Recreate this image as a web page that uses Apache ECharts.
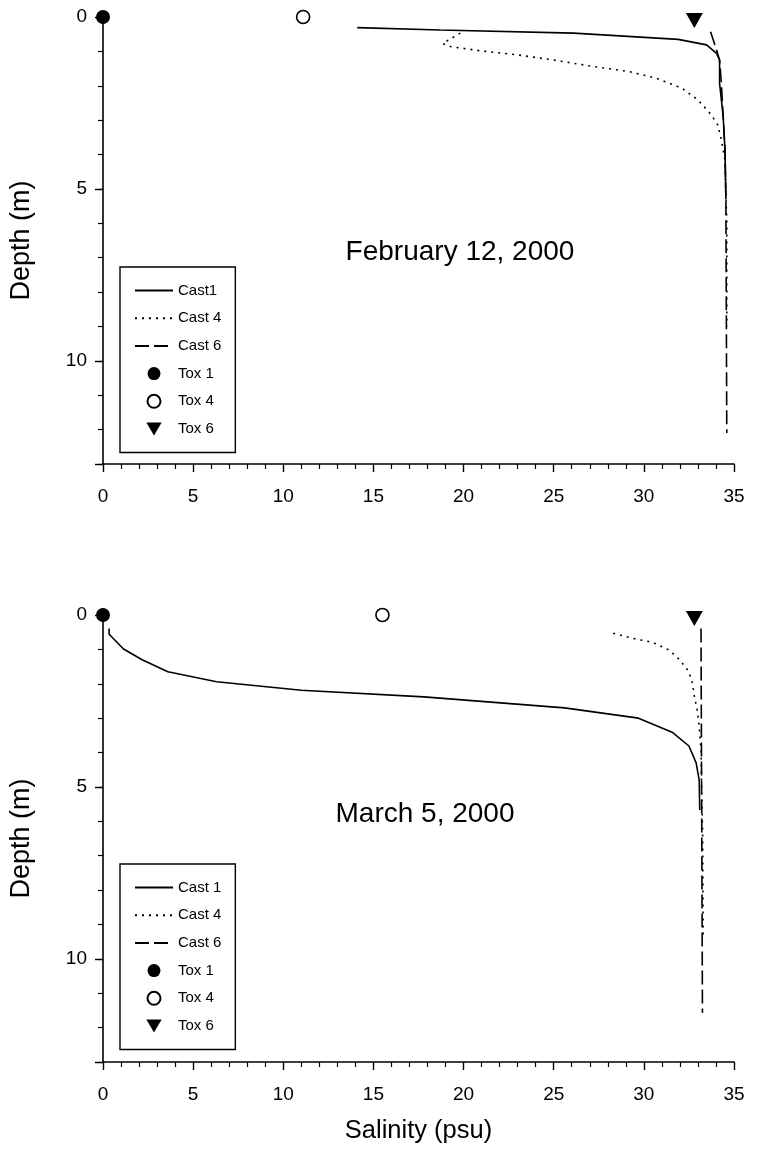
<!DOCTYPE html>
<html>
<head>
<meta charset="utf-8">
<script src="https://cdn.jsdelivr.net/npm/echarts@6/dist/echarts.min.js"></script>
<style>
  html, body { margin: 0; padding: 0; background: #fff; }
  #chart { width: 761px; height: 1159px; }
</style>
</head>
<body>
<div id="chart"></div>
<script>
// Salinity (psu) vs depth (m) profiles for two sampling dates.

// February 12, 2000
const febCast1Sal   = [14.1, 18.7, 26.1, 31.9, 33.48, 34.03, 34.2, 34.2, 34.4, 34.5, 34.55];
const febCast1Depth = [0.31, 0.38, 0.47, 0.65, 0.81, 1.06, 1.25, 1.93, 2.9, 3.87, 5.3];
const febCast4Sal   = [19.82, 18.84, 19.27, 20.9, 22.96, 24.98, 27.2, 29.2, 30.7, 32.1, 33.0, 33.75, 34.1, 34.3, 34.5, 34.6, 34.6];
const febCast4Depth = [0.47, 0.77, 0.86, 0.98, 1.1, 1.25, 1.44, 1.59, 1.78, 2.07, 2.41, 2.85, 3.14, 3.58, 4.16, 6.0, 9.0];
const febCast6Sal   = [33.7, 34.0, 34.2, 34.3, 34.4, 34.5, 34.55, 34.6];
const febCast6Depth = [0.43, 0.91, 1.25, 1.93, 2.9, 3.87, 5.3, 12.1];
const febToxSal     = [0, 11.1, 32.8];
const febToxDepth   = [0, 0, 0.1];

// March 5, 2000
const marCast1Sal   = [0.34, 0.34, 1.14, 2.17, 3.6, 6.3, 11.0, 17.8, 25.6, 29.7, 31.6, 32.5, 32.9, 33.07, 33.1];
const marCast1Depth = [0.39, 0.56, 0.99, 1.30, 1.65, 1.94, 2.19, 2.38, 2.70, 3.0, 3.42, 3.81, 4.3, 4.8, 5.67];
const marCast4Sal   = [28.3, 29.4, 30.5, 31.4, 32.0, 32.5, 32.7, 32.8, 32.96, 33.07, 33.17, 33.2, 33.26, 33.29];
const marCast4Depth = [0.53, 0.68, 0.8, 1.02, 1.31, 1.65, 1.99, 2.37, 2.76, 3.25, 3.92, 5.0, 6.35, 9.35];
const marCast6Sal   = [33.17, 33.25];
const marCast6Depth = [0.39, 11.57];
const marToxSal     = [0, 15.5, 32.8];
const marToxDepth   = [0, 0, 0.1];

const topLegendNames    = ['Cast1', 'Cast 4', 'Cast 6', 'Tox 1', 'Tox 4', 'Tox 6'];
const bottomLegendNames = ['Cast 1', 'Cast 4', 'Cast 6', 'Tox 1', 'Tox 4', 'Tox 6'];
const lineNames = ['Cast1', 'Cast 1', 'Cast 4', 'Cast 6'];
const titles = ['February 12, 2000', 'March 5, 2000'];

const FONT = "'Liberation Sans', Arial, sans-serif";
const zip = (xs, ys) => xs.map((x, i) => [x, ys[i]]);
const downTriangle = 'path://M0,0L20,0L10,17Z';

function xAxisFor(grid, withName) {
  return {
    type: 'value', gridIndex: grid, position: 'bottom', min: 0, max: 35, interval: 5,
    name: withName ? 'Salinity (psu)' : '',
    nameLocation: 'middle', nameGap: 56,
    nameTextStyle: { fontSize: 25.5, fontFamily: FONT, color: '#000' },
    axisLine: { onZero: false, lineStyle: { color: '#000', width: 1.6 } },
    axisTick: { inside: false, length: 8, lineStyle: { color: '#000', width: 1.4 } },
    minorTick: { show: true, splitNumber: 5, length: 5, lineStyle: { color: '#000', width: 1.2 } },
    axisLabel: { fontSize: 19, fontFamily: FONT, color: '#000', margin: 23 },
    splitLine: { show: false }
  };
}
function yAxisFor(grid) {
  return {
    type: 'value', gridIndex: grid, position: 'left', inverse: true, min: 0, max: 13, interval: 5,
    name: 'Depth (m)', nameLocation: 'middle', nameGap: 68, nameRotate: 90,
    nameTextStyle: { fontSize: 27, fontFamily: FONT, color: '#000' },
    axisLine: { onZero: false, lineStyle: { color: '#000', width: 1.6 } },
    axisTick: { inside: false, length: 8, lineStyle: { color: '#000', width: 1.4 } },
    axisLabel: { fontSize: 19, fontFamily: FONT, color: '#000', margin: 16,
                 formatter: v => (v % 5 === 0 ? String(v) : '') },
    splitLine: { show: false }
  };
}
// One-metre tick marks drawn along the depth axis
function yMinorFor(grid) {
  return {
    type: 'value', gridIndex: grid, position: 'left', offset: 0, inverse: true, min: 0, max: 13, interval: 1,
    axisLine: { show: false, onZero: false },
    axisTick: { inside: false, length: 5, lineStyle: { color: '#000', width: 1.2 } },
    axisLabel: { show: false }, splitLine: { show: false }
  };
}

function lineSeries(name, sal, depth, grid, dash) {
  return {
    type: 'line', name, xAxisIndex: grid, yAxisIndex: grid,
    data: zip(sal, depth), symbol: 'none', clip: false, animation: false,
    lineStyle: { color: '#000', width: 1.6, type: dash, cap: 'butt' },
    itemStyle: { color: '#000' }
  };
}
function toxSeries(sal, depth, grid) {
  const base = { type: 'scatter', xAxisIndex: grid, yAxisIndex: grid, clip: false, animation: false, z: 5 };
  return [
    Object.assign({}, base, { name: 'Tox 1', data: [[sal[0], depth[0]]], symbol: 'circle', symbolSize: 14,
      itemStyle: { color: '#000', opacity: 1 } }),
    Object.assign({}, base, { name: 'Tox 4', data: [[sal[1], depth[1]]], symbol: 'circle', symbolSize: 13,
      itemStyle: { color: '#fff', borderColor: '#000', borderWidth: 1.6, opacity: 1 } }),
    Object.assign({}, base, { name: 'Tox 6', data: [[sal[2], depth[2]]], symbol: downTriangle, symbolSize: [17, 15],
      itemStyle: { color: '#000', opacity: 1 } })
  ];
}

const DOT = [2, 5];
const DASH = [14, 5];

// Line entries show only the line style; marker entries show their symbol
function legendFor(names, top) {
  return {
    data: names.map(n => lineNames.includes(n)
      ? { name: n, itemStyle: { color: 'rgba(0,0,0,0)', borderColor: 'rgba(0,0,0,0)', borderWidth: 0 } }
      : { name: n }),
    orient: 'vertical', left: 120, top: top,
    itemWidth: 38, itemHeight: 13, itemGap: 12.7, selectedMode: false,
    textStyle: { fontSize: 15, fontFamily: FONT, color: '#000' },
    borderColor: '#000', borderWidth: 1.4, borderRadius: 0,
    padding: [16, 14, 16, 14], backgroundColor: '#fff'
  };
}

const chart = echarts.init(document.getElementById('chart'), null, { renderer: 'canvas' });
chart.setOption({
  backgroundColor: '#fff',
  animation: false,
  title: [
    { text: titles[0], left: 455, top: 233, textAlign: 'center',
      textStyle: { fontSize: 28, fontWeight: 'normal', fontFamily: FONT, color: '#000' } },
    { text: titles[1], left: 420, top: 795, textAlign: 'center',
      textStyle: { fontSize: 28, fontWeight: 'normal', fontFamily: FONT, color: '#000' } }
  ],
  grid: [
    { left: 102, top: 17, width: 632, height: 447 },
    { left: 102, top: 615, width: 632, height: 447 }
  ],
  xAxis: [xAxisFor(0, false), xAxisFor(1, true)],
  yAxis: [yAxisFor(0), yAxisFor(1), yMinorFor(0), yMinorFor(1)],
  legend: [legendFor(topLegendNames, 267), legendFor(bottomLegendNames, 864)],
  series: [
    lineSeries('Cast1', febCast1Sal, febCast1Depth, 0, 'solid'),
    lineSeries('Cast 4', febCast4Sal, febCast4Depth, 0, DOT),
    lineSeries('Cast 6', febCast6Sal, febCast6Depth, 0, DASH),
    ...toxSeries(febToxSal, febToxDepth, 0),
    lineSeries('Cast 1', marCast1Sal, marCast1Depth, 1, 'solid'),
    lineSeries('Cast 4', marCast4Sal, marCast4Depth, 1, DOT),
    lineSeries('Cast 6', marCast6Sal, marCast6Depth, 1, DASH),
    ...toxSeries(marToxSal, marToxDepth, 1)
  ]
});
</script>
</body>
</html>
